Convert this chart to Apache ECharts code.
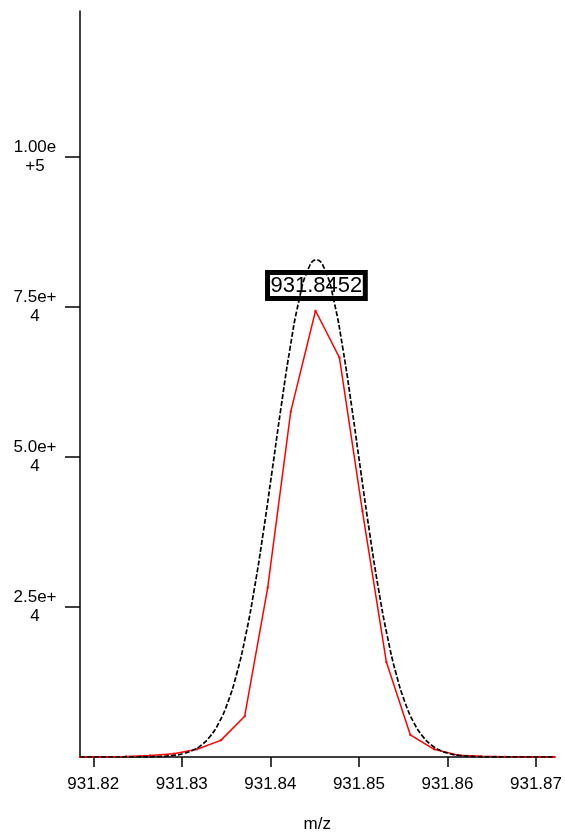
<!DOCTYPE html>
<html>
<head>
<meta charset="utf-8">
<script src="https://cdn.jsdelivr.net/npm/echarts@6/dist/echarts.min.js"></script>
<style>html,body{margin:0;padding:0;background:#fff}#c{width:565px;height:838px}</style>
</head>
<body>
<div id="c"></div>
<script>
// Observed (red) profile
const redMz = [931.8185, 931.8210, 931.8237, 931.8264, 931.8291, 931.8317, 931.8344, 931.8371, 931.8397, 931.8423, 931.8451, 931.8478, 931.8504, 931.8531, 931.8558, 931.8585, 931.8612, 931.8638, 931.8665, 931.8692, 931.8721];
const redInt = [0, 10, 100, 250, 550, 1280, 2770, 6800, 28200, 57500, 74300, 66500, 40900, 15800, 3700, 1280, 300, 120, 40, 10, 0];

// Theoretical (black dashed) profile
const fitMz = [931.8185, 931.8212, 931.8252, 931.8272, 931.8292, 931.8302, 931.8312, 931.8322, 931.8332, 931.8342, 931.8352, 931.8362, 931.8372, 931.8382, 931.8392, 931.8402, 931.8412, 931.8422, 931.8432, 931.8442, 931.8452, 931.8462, 931.8472, 931.8482, 931.8492, 931.8502, 931.8512, 931.8522, 931.8532, 931.8542, 931.8552, 931.8562, 931.8572, 931.8582, 931.8592, 931.8602, 931.8612, 931.8632, 931.8652, 931.8692, 931.8721];
const fitInt = [0, 2, 12, 65, 292, 578, 1095, 1987, 3450, 5728, 9114, 13857, 20165, 28071, 37408, 47681, 58153, 67871, 75786, 80975, 82780, 80975, 75786, 67871, 58153, 47681, 37408, 28071, 20165, 13857, 9114, 5728, 3450, 1987, 1095, 578, 292, 65, 12, 2, 0];

const peakLabel = { mz: 931.8452, y: 78500, text: '931.8452' };

const xTicks = [931.82, 931.83, 931.84, 931.85, 931.86, 931.87];
const yTicks = [25000, 50000, 75000, 100000];
const yTickLabels = ['2.5e+\n4', '5.0e+\n4', '7.5e+\n4', '1.00e\n+5'];

const zip = (a, b) => a.map((v, i) => [v, b[i]]);

const chart = echarts.init(document.getElementById('c'), null, { renderer: 'canvas' });
chart.setOption({
  animation: false,
  backgroundColor: '#ffffff',
  grid: { left: 80, right: 8, top: 11, bottom: 78, containLabel: false },
  xAxis: {
    type: 'value',
    min: 931.8185,
    max: 931.8721,
    name: 'm/z',
    nameLocation: 'middle',
    nameGap: 59,
    nameTextStyle: { fontFamily: 'Liberation Sans', fontSize: 17, color: '#000' },
    axisLine: { show: true, onZero: false, lineStyle: { color: '#000', width: 1.5 } },
    axisTick: { show: true, length: 10, customValues: xTicks, lineStyle: { color: '#000', width: 1.5 } },
    axisLabel: {
      customValues: xTicks,
      formatter: v => v.toFixed(2),
      fontFamily: 'Liberation Sans', fontSize: 17, color: '#000', margin: 19
    },
    splitLine: { show: false }
  },
  yAxis: {
    type: 'value',
    min: 0,
    max: 124200,
    axisLine: { show: true, lineStyle: { color: '#000', width: 1.5 } },
    axisTick: { show: true, length: 15, customValues: yTicks, lineStyle: { color: '#000', width: 1.5 } },
    axisLabel: {
      customValues: yTicks,
      formatter: v => { const i = yTicks.indexOf(v); return i >= 0 ? yTickLabels[i] : ''; },
      fontFamily: 'Liberation Sans', fontSize: 17, color: '#000', lineHeight: 19,
      align: 'center', margin: 45
    },
    splitLine: { show: false }
  },
  series: [
    {
      type: 'line',
      data: zip(redMz, redInt),
      showSymbol: true,
      symbol: 'rect',
      symbolSize: 2,
      itemStyle: { color: '#ff0000' },
      lineStyle: { color: '#ff0000', width: 1.5 },
      z: 2
    },
    {
      type: 'line',
      data: zip(fitMz, fitInt),
      smooth: true,
      showSymbol: false,
      lineStyle: { color: '#000', width: 1.7, type: [5, 2] },
      z: 3,
      markPoint: {
        silent: true,
        symbol: 'rect',
        symbolSize: 1,
        itemStyle: { color: 'rgba(255,255,255,0)', borderWidth: 0 },
        label: {
          show: true,
          position: 'inside',
          formatter: () => peakLabel.text,
          fontFamily: 'Liberation Sans',
          fontSize: 22,
          lineHeight: 23,
          color: '#000000',
          textBorderWidth: 0,
          borderColor: '#000000',
          borderWidth: 2.5,
          padding: [2, 3, 1, 3],
          backgroundColor: 'rgba(255,255,255,0)'
        },
        data: [{ coord: [peakLabel.mz, peakLabel.y] }]
      }
    }
  ]
});
</script>
</body>
</html>
